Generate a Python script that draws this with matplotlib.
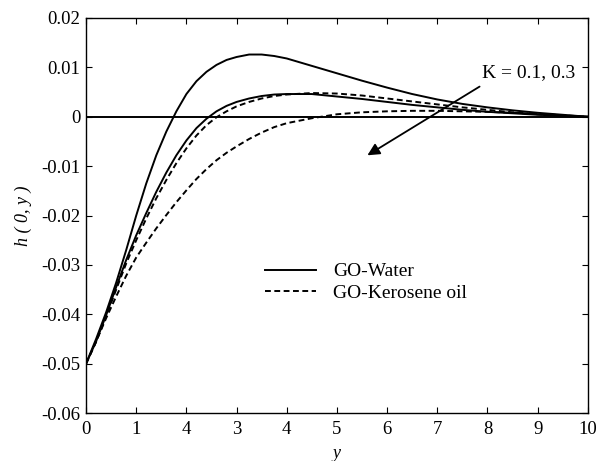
import matplotlib
matplotlib.use('Agg')
import matplotlib.pyplot as plt

plt.rcParams['font.family'] = ['Liberation Serif', 'DejaVu Serif']

# values
y_pos = [0, 0.2, 0.4, 0.6, 0.8, 1.0, 1.2, 1.4, 1.6, 1.8, 2.0, 2.2, 2.4, 2.6, 2.8, 3.0,
         3.25, 3.5, 3.75, 4.0, 4.5, 5.0, 5.5, 6.0, 6.5, 7.0, 7.5, 8.0, 8.5, 9.0, 9.5, 10]

water_k01 = [-0.0500, -0.0450, -0.0396, -0.0336, -0.0270, -0.0200, -0.0135, -0.0078, -0.0030,
             0.0011, 0.0046, 0.0072, 0.0091, 0.0105, 0.0115, 0.0121,
             0.0126, 0.0126, 0.0123, 0.0118, 0.0103, 0.0088, 0.0073, 0.0059, 0.0046, 0.0035,
             0.0026, 0.0019, 0.0013, 0.0008, 0.0004, 0.0]
water_k03 = [-0.0500, -0.0455, -0.0402, -0.0345, -0.0290, -0.0240, -0.0195, -0.0152, -0.0113,
             -0.0078, -0.0048, -0.0023, -0.0004, 0.0011, 0.0022, 0.0030,
             0.0037, 0.0042, 0.0045, 0.0046, 0.0046, 0.0041, 0.0036, 0.0030, 0.0024, 0.0019,
             0.0014, 0.0010, 0.0007, 0.0004, 0.0002, 0.0]
kero_k01 = [-0.0500, -0.0456, -0.0404, -0.0350, -0.0297, -0.0250, -0.0206, -0.0165, -0.0128,
            -0.0094, -0.0064, -0.0038, -0.0017, -0.0001, 0.0011, 0.0021,
            0.0030, 0.0037, 0.0042, 0.0045, 0.0048, 0.0047, 0.0043, 0.0037, 0.0031, 0.0025,
            0.0019, 0.0014, 0.0009, 0.0005, 0.0002, 0.0]
kero_k03 = [-0.0500, -0.0455, -0.0408, -0.0364, -0.0322, -0.0285, -0.0255, -0.0226, -0.0199,
            -0.0173, -0.0149, -0.0126, -0.0106, -0.0088, -0.0073, -0.0060,
            -0.0045, -0.0032, -0.0021, -0.0013, -0.0003, 0.0005, 0.0009, 0.0011, 0.0012, 0.0012,
            0.0011, 0.0010, 0.0008, 0.0006, 0.0003, 0.0]

x_ticks = [0, 1, 2, 3, 4, 5, 6, 7, 8, 9, 10]
x_tick_labels = ['0', '1', '4', '3', '4', '5', '6', '7', '8', '9', '10']
y_ticks = [-0.06, -0.05, -0.04, -0.03, -0.02, -0.01, 0, 0.01, 0.02]
y_tick_labels = ['-0.06', '-0.05', '-0.04', '-0.03', '-0.02', '-0.01', '0', '0.01', '0.02']

fig = plt.figure(figsize=(6.06, 4.61), dpi=100)
ax = fig.add_axes([0.142, 0.104, 0.828, 0.857])

ax.axhline(0, color='black', linewidth=1.4)

dash = (0, (3, 1.8))
ax.plot(y_pos, water_k01, color='black', linewidth=1.4, label='GO-Water')
ax.plot(y_pos, water_k03, color='black', linewidth=1.4)
ax.plot(y_pos, kero_k01, color='black', linewidth=1.4, linestyle=dash, label='GO-Kerosene oil')
ax.plot(y_pos, kero_k03, color='black', linewidth=1.4, linestyle=dash)

ax.set_xlim(0, 10)
ax.set_ylim(-0.06, 0.02)
ax.set_xticks(x_ticks)
ax.set_xticklabels(x_tick_labels)
ax.set_yticks(y_ticks)
ax.set_yticklabels(y_tick_labels)
ax.tick_params(direction='in', length=4, width=0.8, top=True, right=True, labelsize=13.5)
ax.tick_params(axis='x', pad=6)
ax.tick_params(axis='y', pad=4)
for sp in ax.spines.values():
    sp.set_linewidth(1.0)

ax.set_xlabel('y', style='italic', fontsize=13, labelpad=5)
ax.set_ylabel('h ( 0, y )', style='italic', fontsize=13, labelpad=7)

ax.annotate('', xy=(5.56, -0.0081), xytext=(7.89, 0.0064),
            arrowprops=dict(arrowstyle='-|>', color='black', lw=1.3, mutation_scale=18))
ax.text(7.89, 0.0089, 'K = 0.1, 0.3', fontsize=14, va='center', ha='left')

ax.legend(loc='upper left', bbox_to_anchor=(0.33, 0.415), frameon=False, fontsize=14,
          handlelength=2.6, handletextpad=0.9, labelspacing=0.2, borderpad=0.2)

fig.savefig('out.png', dpi=100)
